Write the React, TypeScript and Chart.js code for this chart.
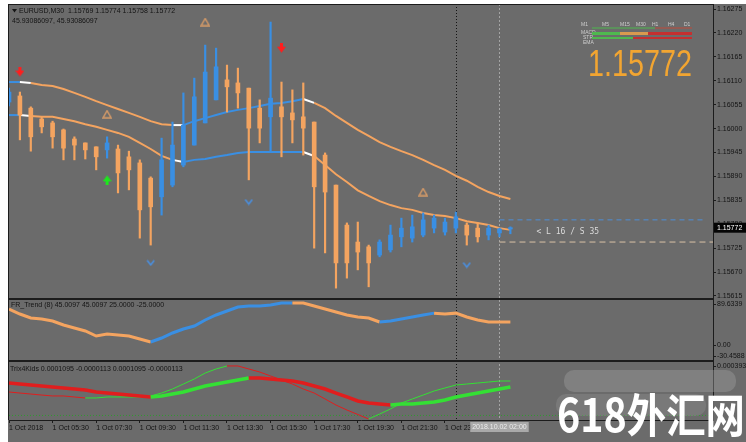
import { useEffect, useRef } from 'react';
import { Chart, registerables } from 'chart.js';

Chart.register(...registerables);

const FONT = "'Liberation Sans', Arial, sans-serif";
const BG = '#6b6b6b';
const ORANGE = '#f4a460';
const BLUE = '#3a8fe3';
const WHITE = '#ffffff';
const RED = '#e01e1e';
const GREEN = '#34e034';

// ---------- time axis ----------
const timeTickIdx = [0, 4, 8, 12, 16, 20, 24, 28, 32, 36, 40];
const timeTickLabels = ['1 Oct 2018', '1 Oct 05:30', '1 Oct 07:30', '1 Oct 09:30', '1 Oct 11:30', '1 Oct 13:30', '1 Oct 15:30', '1 Oct 17:30', '1 Oct 19:30', '1 Oct 21:30', '1 Oct 23:30'];
const xMaxIdx = 64.59;
const daySeparatorIdx = 41;
const crosshairIdx = 45;
const crosshairLabel = '2018.10.02 02:00';

// ---------- price axis ----------
const priceTicks = [1.15615, 1.1567, 1.15725, 1.1578, 1.15835, 1.1589, 1.15945, 1.16, 1.16055, 1.1611, 1.16165, 1.1622, 1.16275];
const priceMin = 1.15608;
const priceMax = 1.162865;
const currentPrice = 1.15772;

// ---------- candles (EURUSD M30) ----------
const candleOpen = [1.16061, 1.16075, 1.16047, 1.16022, 1.16013, 1.15997, 1.15976, 1.15967, 1.15958, 1.15951, 1.15953, 1.15935, 1.15921, 1.15886, 1.15843, 1.1587, 1.15916, 1.15962, 1.16013, 1.16066, 1.16112, 1.16105, 1.16093, 1.16047, 1.16027, 1.1605, 1.16036, 1.16027, 1.16015, 1.15939, 1.1587, 1.15778, 1.15739, 1.15728, 1.15709, 1.15721, 1.15751, 1.15748, 1.15755, 1.15771, 1.15762, 1.15771, 1.15778, 1.15771, 1.15755, 1.1576, 1.15769];
const candleHigh = [1.16093, 1.16084, 1.1605, 1.16027, 1.16017, 1.15999, 1.15981, 1.15967, 1.15958, 1.15981, 1.15962, 1.15948, 1.15928, 1.15889, 1.15978, 1.16015, 1.16082, 1.16116, 1.16192, 1.16185, 1.16146, 1.16139, 1.16093, 1.16066, 1.16245, 1.16107, 1.16089, 1.16105, 1.16015, 1.15944, 1.1587, 1.15783, 1.15785, 1.15732, 1.15744, 1.15778, 1.15794, 1.15801, 1.15806, 1.15801, 1.15794, 1.15808, 1.15783, 1.15783, 1.15778, 1.15771, 1.15774];
const candleLow = [1.16052, 1.15974, 1.15948, 1.1599, 1.15955, 1.15928, 1.15928, 1.1593, 1.15905, 1.15932, 1.15852, 1.15859, 1.15748, 1.15732, 1.15801, 1.15866, 1.15912, 1.15962, 1.16013, 1.16066, 1.16038, 1.16047, 1.15882, 1.15967, 1.15946, 1.15935, 1.15967, 1.15939, 1.15725, 1.15714, 1.15633, 1.15656, 1.15675, 1.15636, 1.15705, 1.15716, 1.15728, 1.15739, 1.15751, 1.1576, 1.15755, 1.1576, 1.15732, 1.15739, 1.15744, 1.15751, 1.15758];
const candleClose = [1.16084, 1.16031, 1.15981, 1.16004, 1.15981, 1.15955, 1.15962, 1.15951, 1.15935, 1.15967, 1.15898, 1.15905, 1.15813, 1.1582, 1.15928, 1.15962, 1.16008, 1.16073, 1.1613, 1.16142, 1.16096, 1.16082, 1.16001, 1.16001, 1.1607, 1.16027, 1.1602, 1.16001, 1.15866, 1.15854, 1.15691, 1.15691, 1.15716, 1.15691, 1.15739, 1.15755, 1.15771, 1.15774, 1.1579, 1.15794, 1.15785, 1.15797, 1.15755, 1.15751, 1.15771, 1.15769, 1.15772];
const candleTrend = ['b', 'o', 'o', 'o', 'o', 'o', 'o', 'o', 'o', 'b', 'o', 'o', 'o', 'o', 'b', 'b', 'b', 'b', 'b', 'b', 'o', 'o', 'o', 'o', 'b', 'o', 'o', 'o', 'o', 'o', 'o', 'o', 'o', 'o', 'b', 'b', 'b', 'b', 'b', 'b', 'b', 'b', 'o', 'o', 'b', 'b', 'b'];

// ---------- bands ----------
const bandUpper = [1.16107, 1.16107, 1.16105, 1.161, 1.16098, 1.16091, 1.16082, 1.16073, 1.16063, 1.16054, 1.16045, 1.16036, 1.16027, 1.16017, 1.1601, 1.16008, 1.16008, 1.16017, 1.16024, 1.16031, 1.16038, 1.16043, 1.16047, 1.16052, 1.16057, 1.16059, 1.16063, 1.16068, 1.16059, 1.16047, 1.16029, 1.16013, 1.15997, 1.15983, 1.15969, 1.15958, 1.15948, 1.15939, 1.15928, 1.15916, 1.15905, 1.15891, 1.1588, 1.15866, 1.15854, 1.15845, 1.15838];
const bandLower = [1.16031, 1.16031, 1.16029, 1.16027, 1.16027, 1.16022, 1.16017, 1.1601, 1.16004, 1.15997, 1.1599, 1.15981, 1.15967, 1.15953, 1.15937, 1.15928, 1.15923, 1.15928, 1.1593, 1.15935, 1.15939, 1.15944, 1.15946, 1.15946, 1.15946, 1.15946, 1.15946, 1.15946, 1.15937, 1.15916, 1.15895, 1.15877, 1.15858, 1.15845, 1.15833, 1.15824, 1.15817, 1.15813, 1.15806, 1.15801, 1.15799, 1.15794, 1.15787, 1.15783, 1.15778, 1.15771, 1.15767];
const bandSeg = ['b', 'w', 'o', 'o', 'o', 'o', 'o', 'o', 'o', 'o', 'o', 'o', 'o', 'o', 'o', 'w', 'b', 'b', 'b', 'b', 'b', 'b', 'b', 'b', 'b', 'b', 'b', 'w', 'o', 'o', 'o', 'o', 'o', 'o', 'o', 'o', 'o', 'o', 'o', 'o', 'o', 'o', 'o', 'o', 'o', 'o'];

// ---------- signal marks ----------
const sellArrows = [{ x: 1, y: 1.1613 }, { x: 25, y: 1.16185 }];
const buyArrows = [{ x: 9, y: 1.15882 }];
const upMarks = [{ x: 18, y: 1.16245 }, { x: 9, y: 1.16033 }, { x: 38, y: 1.15854 }];
const downMarks = [{ x: 13, y: 1.15691 }, { x: 22, y: 1.15831 }, { x: 42, y: 1.15686 }];
const longLevel = 1.1579;
const shortLevel = 1.15739;
const levelText = '< L 16 / S 35';

// ---------- FR_Trend ----------
const frValues = [70.26, 60.58, 52.83, 50.89, 47.02, 39.27, 33.46, 27.65, 17.97, 21.84, 19.9, 17.97, 12.16, 6.35, 14.1, 23.78, 31.52, 37.33, 48.96, 58.64, 66.39, 74.14, 76.08, 76.08, 78.01, 81.89, 81.89, 81.89, 76.08, 70.26, 64.45, 58.64, 54.77, 52.83, 45.08, 47.02, 50.89, 54.77, 58.64, 62.26, 60.58, 62.26, 54.77, 48.96, 45.08, 45.08, 45.0097];
const frSeg = ['o', 'o', 'o', 'o', 'o', 'o', 'o', 'o', 'o', 'o', 'o', 'o', 'o', 'b', 'b', 'b', 'b', 'b', 'b', 'b', 'b', 'b', 'b', 'b', 'b', 'b', 'o', 'o', 'o', 'o', 'o', 'o', 'o', 'o', 'b', 'b', 'b', 'b', 'b', 'o', 'o', 'o', 'o', 'o', 'o', 'o'];
const frMin = -30.4588;
const frMax = 89.6339;
const frTitle = 'FR_Trend (8) 45.0097 45.0097 25.0000 -25.0000';

// ---------- Trix4Kids ----------
const trixMain = [0.000153, 0.000142, 0.000131, 0.00012, 0.00011, 0.000099, 0.000088, 0.000077, 0.000055, 0.000044, 0.000033, 0.000022, 0.000012, 0.000001, 0.000012, 0.000033, 0.000055, 0.000088, 0.00012, 0.000142, 0.000164, 0.000186, 0.000208, 0.000208, 0.000197, 0.000186, 0.000175, 0.000153, 0.00012, 0.000088, 0.000044, 0.000001, -0.000043, -0.000065, -0.000076, -0.000087, -0.000076, -0.000076, -0.000065, -0.000054, -0.000032, 0.000001, 0.000022, 0.000044, 0.000066, 0.000088, 0.0001095];
const trixSignal = [0.000055, 0.000044, 0.000033, 0.000022, 0.000012, 0.000012, 0.000001, -0.00001, -0.00001, 0.000001, 0.000001, 0.000001, 0.000001, 0.000012, 0.000044, 0.000088, 0.000142, 0.000197, 0.000262, 0.000306, 0.000339, 0.000339, 0.000306, 0.000273, 0.00023, 0.000186, 0.000142, 0.000088, 0.000044, -0.000021, -0.000087, -0.000141, -0.00019, -0.000239, -0.000185, -0.00013, -0.000065, -0.000021, 0.000022, 0.000066, 0.000099, 0.000131, 0.000142, 0.000153, 0.000164, 0.000175, 0.000175];
const trixMainSeg = ['r', 'r', 'r', 'r', 'r', 'r', 'r', 'r', 'r', 'r', 'r', 'r', 'r', 'g', 'g', 'g', 'g', 'g', 'g', 'g', 'g', 'g', 'r', 'r', 'r', 'r', 'r', 'r', 'r', 'r', 'r', 'r', 'r', 'r', 'r', 'g', 'g', 'g', 'g', 'g', 'g', 'g', 'g', 'g', 'g', 'g'];
const trixSignalSeg = ['r', 'r', 'r', 'r', 'r', 'r', 'r', 'g', 'g', 'g', 'g', 'g', 'g', 'g', 'g', 'g', 'g', 'g', 'g', 'g', 'r', 'r', 'r', 'r', 'r', 'r', 'r', 'r', 'r', 'r', 'r', 'r', 'r', 'g', 'g', 'g', 'g', 'g', 'g', 'g', 'g', 'g', 'g', 'g', 'g', 'g'];
const trixMin = -0.00025;
const trixMax = 0.000393;
const trixLevel = -0.0002;
const trixTitle = 'Trix4Kids 0.0001095 -0.0000113 0.0001095 -0.0000113';

// ---------- header texts ----------
const symbolTitle = 'EURUSD,M30  1.15769 1.15774 1.15758 1.15772';
const indicatorLine = '45.93086097, 45.93086097';
const tfLabels = ['M1', 'M5', 'M15', 'M30', 'H1', 'H4', 'D1'];
const watermark = '618外汇网';

const bandColor = (c: string) => (c === 'b' ? BLUE : c === 'w' ? WHITE : ORANGE);
const trixColor = (c: string) => (c === 'g' ? GREEN : RED);

function makeCanvas(w: number, h: number, draw: (g: CanvasRenderingContext2D) => void) {
  const c = document.createElement('canvas');
  c.width = w;
  c.height = h;
  draw(c.getContext('2d')!);
  return c;
}

const fitY = (s: any) => {
  s.width = 33;
  s.paddingTop = 0;
  s.paddingBottom = 0;
  s.paddingLeft = 0;
  s.paddingRight = 0;
};
const fitX = (s: any) => {
  s.height = 22;
  s.paddingTop = 0;
  s.paddingBottom = 0;
  s.paddingLeft = 0;
  s.paddingRight = 0;
};

const mt4Plugin = {
  id: 'mt4',
  beforeDraw(chart: any) {
    const { ctx, width, height } = chart;
    ctx.save();
    ctx.fillStyle = BG;
    ctx.fillRect(0, 0, width, height);
    ctx.restore();
  },
  beforeDatasetsDraw(chart: any) {
    const { ctx, chartArea: ca, scales } = chart;
    const xs = scales.x;
    ctx.save();
    ctx.lineWidth = 1;
    const xd = Math.round(xs.getPixelForValue(daySeparatorIdx)) + 0.5;
    ctx.setLineDash([1, 2]);
    ctx.strokeStyle = '#141414';
    ctx.beginPath();
    ctx.moveTo(xd, ca.top);
    ctx.lineTo(xd, ca.bottom);
    ctx.stroke();
    const xc = Math.round(xs.getPixelForValue(crosshairIdx)) + 0.5;
    ctx.setLineDash([2, 2]);
    ctx.strokeStyle = '#a4a4a4';
    ctx.beginPath();
    ctx.moveTo(xc, ca.top);
    ctx.lineTo(xc, ca.bottom);
    ctx.stroke();
    ctx.restore();
  },
  afterDraw(chart: any) {
    const { ctx, chartArea: ca, scales } = chart;
    const xs = scales.x;
    const yP = scales.yP;
    const yF = scales.yF;
    const yT = scales.yT;
    ctx.save();
    // pane borders
    ctx.fillStyle = '#1c1c1c';
    ctx.fillRect(0, 0, ca.right, 1);
    ctx.fillRect(0, 0, 1, ca.bottom);
    ctx.fillRect(0, yP.bottom - 1, ca.right, 2);
    ctx.fillRect(0, yF.bottom - 1, ca.right, 2);

    ctx.textBaseline = 'middle';
    ctx.textAlign = 'left';
    ctx.font = `7px ${FONT}`;
    ctx.fillStyle = '#141414';
    // symbol title
    ctx.beginPath();
    ctx.moveTo(4, 5);
    ctx.lineTo(9, 5);
    ctx.lineTo(6.5, 8.5);
    ctx.closePath();
    ctx.fill();
    ctx.fillText(symbolTitle, 11, 7);
    ctx.fillText(indicatorLine, 4, 17);
    ctx.fillText(frTitle, 3, yF.top + 6);
    ctx.fillText(trixTitle, 2, yT.top + 8);

    // sub-window axis labels
    const ax = ca.right;
    const lbl = (t: string, y: number, base: CanvasTextBaseline, ty: number) => {
      ctx.fillStyle = '#1c1c1c';
      ctx.fillRect(ax, Math.round(ty), 3, 1);
      ctx.fillStyle = '#141414';
      ctx.textBaseline = base;
      ctx.fillText(t, ax + 4, y);
    };
    lbl(frMax.toFixed(4), yF.top + 2, 'top', yF.top + 5);
    lbl('0.00', yF.getPixelForValue(0), 'middle', yF.getPixelForValue(0));
    lbl(frMin.toFixed(4), yF.bottom - 1, 'bottom', yF.bottom - 5);
    lbl(trixMax.toFixed(6), yT.top + 2, 'top', yT.top + 5);

    // current price box
    const py = yP.getPixelForValue(currentPrice);
    ctx.fillStyle = '#050505';
    ctx.fillRect(ax + 1, py - 5, 33, 10);
    ctx.fillStyle = '#ffffff';
    ctx.textBaseline = 'middle';
    ctx.fillText(currentPrice.toFixed(5), ax + 4, py);

    // crosshair date box
    const xc = xs.getPixelForValue(crosshairIdx);
    ctx.font = `7px ${FONT}`;
    const tw = ctx.measureText(crosshairLabel).width + 4;
    ctx.fillStyle = '#a9a9a9';
    ctx.fillRect(xc - tw / 2, ca.bottom + 2, tw, 10);
    ctx.fillStyle = '#ececec';
    ctx.textAlign = 'center';
    ctx.fillText(crosshairLabel, xc, ca.bottom + 7);
    ctx.textAlign = 'left';

    // level text
    ctx.font = `8px 'DejaVu Sans Mono', monospace`;
    ctx.fillStyle = '#dadada';
    ctx.fillText(levelText, xc + 37, py + 4);

    // info panel
    ctx.font = `5px ${FONT}`;
    ctx.fillStyle = '#cfcfcf';
    const tfx = [573, 594, 612, 628, 644, 660, 676];
    tfLabels.forEach((t, i) => ctx.fillText(t, tfx[i], 21));
    ctx.fillText('MACD', 573, 29);
    ctx.fillText('STR', 575, 34);
    ctx.fillText('EMA', 575, 39);
    ctx.fillStyle = '#4fb84f';
    ctx.fillRect(584, 23.5, 63, 1);
    ctx.fillStyle = '#c04a3a';
    ctx.fillRect(647, 23.5, 37, 1);
    ctx.fillStyle = '#4fb84f';
    ctx.fillRect(584, 28, 28, 3);
    ctx.fillStyle = '#d99a4e';
    ctx.fillRect(612, 28, 28, 3);
    ctx.fillStyle = '#c43030';
    ctx.fillRect(640, 28, 44, 3);
    ctx.fillStyle = '#4fb84f';
    ctx.fillRect(584, 33, 41, 2);
    ctx.fillStyle = '#c43030';
    ctx.fillRect(625, 33, 59, 2);

    // big price
    ctx.font = `36px ${FONT}`;
    ctx.textBaseline = 'alphabetic';
    const bw = ctx.measureText(currentPrice.toFixed(5)).width;
    ctx.save();
    ctx.translate(580, 72);
    ctx.scale(104 / bw, 1);
    ctx.fillStyle = '#f2a531';
    ctx.fillText(currentPrice.toFixed(5), 0, 0);
    ctx.restore();

    // watermark
    ctx.fillStyle = 'rgba(160,160,160,0.4)';
    ctx.beginPath();
    (ctx as any).roundRect(556, 366, 172, 22, 10);
    ctx.fill();
    ctx.fillStyle = 'rgba(150,150,150,0.35)';
    ctx.beginPath();
    (ctx as any).roundRect(548, 390, 150, 22, 10);
    ctx.fill();
    ctx.font = `bold 46px 'Noto Sans CJK SC', sans-serif`;
    const ww = ctx.measureText(watermark).width;
    ctx.save();
    ctx.translate(549, 428);
    ctx.scale(188 / ww, 1);
    ctx.fillStyle = '#ffffff';
    ctx.fillText(watermark, 0, 0);
    ctx.restore();

    ctx.restore();
  },
};

export default function App() {
  const ref = useRef<HTMLCanvasElement>(null);
  useEffect(() => {
    const canvas = ref.current!;
    const sellImg = makeCanvas(9, 11, (g) => {
      g.fillStyle = '#ff1e1e';
      g.fillRect(3, 0, 3, 5);
      g.beginPath();
      g.moveTo(0, 4);
      g.lineTo(9, 4);
      g.lineTo(4.5, 10);
      g.closePath();
      g.fill();
    });
    const buyImg = makeCanvas(9, 11, (g) => {
      g.fillStyle = '#1ee61e';
      g.fillRect(3, 6, 3, 5);
      g.beginPath();
      g.moveTo(0, 7);
      g.lineTo(9, 7);
      g.lineTo(4.5, 1);
      g.closePath();
      g.fill();
    });
    const upImg = makeCanvas(10, 9, (g) => {
      g.strokeStyle = '#d49a68';
      g.lineWidth = 1.5;
      g.beginPath();
      g.moveTo(5, 1);
      g.lineTo(9, 8);
      g.lineTo(1, 8);
      g.closePath();
      g.stroke();
    });
    const downImg = makeCanvas(9, 7, (g) => {
      g.strokeStyle = '#4a90e2';
      g.lineWidth = 1.6;
      g.beginPath();
      g.moveTo(1, 1);
      g.lineTo(4.5, 5.5);
      g.lineTo(8, 1);
      g.stroke();
    });

    const idx = candleOpen.map((_, i) => i);
    const candleColors = candleTrend.map((t) => (t === 'b' ? BLUE : ORANGE));

    const chart = new Chart(canvas, {
      type: 'bar',
      data: {
        datasets: [
          {
            type: 'line', label: 'sell', data: sellArrows, yAxisID: 'yP', xAxisID: 'x', showLine: false,
            pointStyle: sellImg as any, pointRadius: 5, order: 0,
          },
          {
            type: 'line', label: 'buy', data: buyArrows, yAxisID: 'yP', xAxisID: 'x', showLine: false,
            pointStyle: buyImg as any, pointRadius: 5, order: 0,
          },
          {
            type: 'line', label: 'up', data: upMarks, yAxisID: 'yP', xAxisID: 'x', showLine: false,
            pointStyle: upImg as any, pointRadius: 5, order: 0,
          },
          {
            type: 'line', label: 'down', data: downMarks, yAxisID: 'yP', xAxisID: 'x', showLine: false,
            pointStyle: downImg as any, pointRadius: 5, order: 0,
          },
          {
            type: 'bar', label: 'body', yAxisID: 'yP', xAxisID: 'x', order: 2,
            data: idx.map((i) => ({ x: i, y: [Math.min(candleOpen[i], candleClose[i]), Math.max(candleOpen[i], candleClose[i])] })) as any,
            backgroundColor: candleColors, barThickness: 4, grouped: false, minBarLength: 1, borderWidth: 0,
          },
          {
            type: 'bar', label: 'wick', yAxisID: 'yP', xAxisID: 'x', order: 3,
            data: idx.map((i) => ({ x: i, y: [candleLow[i], candleHigh[i]] })) as any,
            backgroundColor: candleColors, barThickness: 1.5, grouped: false, borderWidth: 0,
          },
          {
            type: 'line', label: 'upper', yAxisID: 'yP', xAxisID: 'x', order: 4,
            data: bandUpper.map((v, i) => ({ x: i, y: v })), borderWidth: 2, pointRadius: 0, tension: 0,
            borderColor: ORANGE, segment: { borderColor: (c: any) => bandColor(bandSeg[c.p0DataIndex]) },
          },
          {
            type: 'line', label: 'lower', yAxisID: 'yP', xAxisID: 'x', order: 4,
            data: bandLower.map((v, i) => ({ x: i, y: v })), borderWidth: 2, pointRadius: 0, tension: 0,
            borderColor: ORANGE, segment: { borderColor: (c: any) => bandColor(bandSeg[c.p0DataIndex]) },
          },
          {
            type: 'line', label: 'long', yAxisID: 'yP', xAxisID: 'x', order: 5,
            data: [{ x: crosshairIdx, y: longLevel }, { x: xMaxIdx - 0.9, y: longLevel }],
            borderColor: '#4f8fd6', borderWidth: 1, borderDash: [5, 4], pointRadius: 0,
          },
          {
            type: 'line', label: 'short', yAxisID: 'yP', xAxisID: 'x', order: 5,
            data: [{ x: crosshairIdx, y: shortLevel }, { x: xMaxIdx, y: shortLevel }],
            borderColor: '#d9c2a6', borderWidth: 1, borderDash: [6, 4], pointRadius: 0,
          },
          {
            type: 'line', label: 'fr', yAxisID: 'yF', xAxisID: 'x', order: 1,
            data: frValues.map((v, i) => ({ x: i, y: v })), borderWidth: 3, pointRadius: 0, tension: 0,
            borderColor: ORANGE, segment: { borderColor: (c: any) => bandColor(frSeg[c.p0DataIndex]) },
          },
          {
            type: 'line', label: 'trixMain', yAxisID: 'yT', xAxisID: 'x', order: 1,
            data: trixMain.map((v, i) => ({ x: i, y: v })), borderWidth: 3.5, pointRadius: 0, tension: 0,
            borderColor: RED, segment: { borderColor: (c: any) => trixColor(trixMainSeg[c.p0DataIndex]) },
          },
          {
            type: 'line', label: 'trixSignal', yAxisID: 'yT', xAxisID: 'x', order: 1,
            data: trixSignal.map((v, i) => ({ x: i, y: v })), borderWidth: 1, pointRadius: 0, tension: 0,
            borderColor: RED, segment: { borderColor: (c: any) => trixColor(trixSignalSeg[c.p0DataIndex]) },
          },
          {
            type: 'line', label: 'trixLevel', yAxisID: 'yT', xAxisID: 'x', order: 6,
            data: [{ x: 0, y: trixLevel }, { x: xMaxIdx, y: trixLevel }],
            borderColor: '#2f9a2f', borderWidth: 1, borderDash: [1, 2], pointRadius: 0,
          },
        ] as any,
      },
      options: {
        responsive: false,
        animation: false,
        events: [],
        layout: { padding: { left: 1, top: 0, right: 0, bottom: 0 }, autoPadding: false },
        plugins: { legend: { display: false }, tooltip: { enabled: false } },
        scales: {
          x: {
            type: 'linear', position: 'bottom', min: 0, max: xMaxIdx, offset: false,
            afterBuildTicks: (s: any) => { s.ticks = timeTickIdx.map((v) => ({ value: v })); },
            afterFit: fitX,
            grid: { drawOnChartArea: false, drawTicks: true, tickLength: 3, color: '#1c1c1c', offset: false },
            border: { display: true, color: '#1c1c1c' },
            ticks: {
              autoSkip: false, maxRotation: 0, minRotation: 0, align: 'start', padding: 1, color: '#141414',
              font: { family: FONT, size: 7 }, callback: (_v: any, i: number) => timeTickLabels[i],
            },
          },
          yP: {
            type: 'linear', position: 'right', stack: 'panes', stackWeight: 295, min: priceMin, max: priceMax, beginAtZero: false,
            afterBuildTicks: (s: any) => { s.ticks = priceTicks.map((v) => ({ value: v })); },
            afterFit: fitY,
            grid: { drawOnChartArea: false, drawTicks: true, tickLength: 3, color: '#1c1c1c' },
            border: { display: true, color: '#1c1c1c' },
            ticks: { autoSkip: false, padding: 1, color: '#141414', font: { family: FONT, size: 7 }, callback: (v: any) => Number(v).toFixed(5) },
          },
          yF: {
            type: 'linear', position: 'right', stack: 'panes', stackWeight: 62, min: frMin, max: frMax, beginAtZero: false,
            afterFit: fitY, grid: { display: false }, border: { display: true, color: '#1c1c1c' }, ticks: { display: false },
          },
          yT: {
            type: 'linear', position: 'right', stack: 'panes', stackWeight: 59, min: trixMin, max: trixMax, beginAtZero: false,
            afterFit: fitY, grid: { display: false }, border: { display: true, color: '#1c1c1c' }, ticks: { display: false },
          },
        } as any,
      },
      plugins: [mt4Plugin],
    });
    return () => chart.destroy();
  }, []);
  return (
    <div style={{ position: 'absolute', left: 8, top: 4, width: 738, height: 438 }}>
      <canvas ref={ref} width={738} height={438} style={{ display: 'block', width: 738, height: 438 }} />
    </div>
  );
}
